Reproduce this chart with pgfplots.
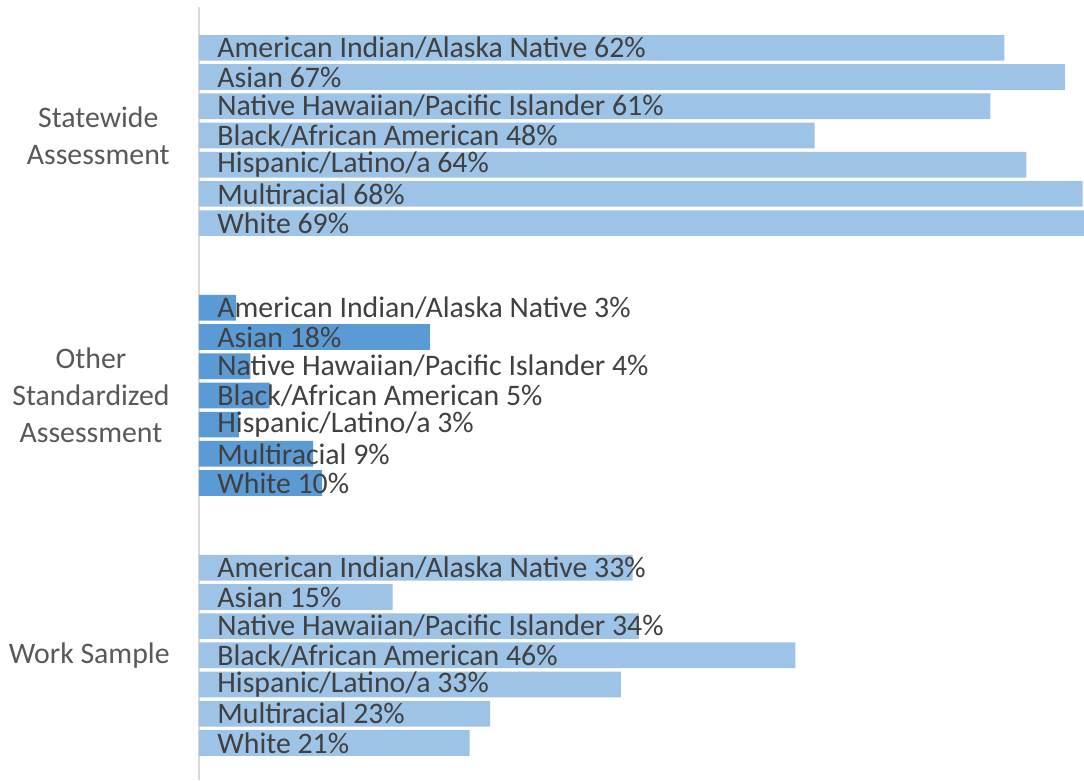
\documentclass[border=0pt]{standalone}
\usepackage{pgfplots}
\pgfplotsset{compat=1.18}
\usepackage{fontspec}
\setmainfont{Carlito}
\definecolor{lightbar}{HTML}{9DC3E6}
\definecolor{darkbar}{HTML}{5B9BD5}
\definecolor{txt}{HTML}{404040}
\definecolor{grptxt}{HTML}{595959}
\definecolor{axisline}{HTML}{D9D9D9}
\begin{document}
\begin{tikzpicture}
\begin{axis}[
  scale only axis,
  width=442.5pt, height=386.5pt,
  xmin=0, xmax=69,
  ymin=-1.40, ymax=25.07,
  y dir=reverse,
  axis x line=none,
  axis y line*=left,
  y axis line style={draw=axisline, line width=1pt, -},
  major tick length=0pt,
  ytick={3,11.9,20.8},
  yticklabels={{Statewide\\Assessment},{Other\\Standardized\\Assessment},{Work Sample}},
  yticklabel style={align=center, inner sep=0pt, xshift=-14.5pt, text=grptxt,
    font=\fontsize{14.9pt}{18.5pt}\selectfont},
  every node near coord/.append style={anchor=west, inner sep=0pt, xshift=9pt,
    text=txt, font=\fontsize{14.9pt}{17pt}\selectfont},
  clip=true,
]
% Statewide Assessment
\addplot[xbar, bar width=0.88, fill=lightbar, draw=none] coordinates {
  (62.8,0) (67.5,1) (61.7,2) (48.0,3) (64.5,4) (68.9,5) (69.2,6)};
% Other Standardized Assessment
\addplot[xbar, bar width=0.88, fill=darkbar, draw=none] coordinates {
  (2.9,8.9) (18.0,9.9) (4.0,10.9) (5.5,11.9) (3.1,12.9) (8.9,13.9) (9.6,14.9)};
% Work Sample
\addplot[xbar, bar width=0.88, fill=lightbar, draw=none] coordinates {
  (33.8,17.8) (15.1,18.8) (34.3,19.8) (46.5,20.8) (32.9,21.8) (22.7,22.8) (21.1,23.8)};
% Labels
\addplot[draw=none, mark=none, nodes near coords, point meta=explicit symbolic, forget plot]
coordinates {
  (0,0) [American Indian/Alaska Native 62\%]
  (0,1) [Asian 67\%]
  (0,2) [Native Hawaiian/Pacific Islander 61\%]
  (0,3) [Black/African American 48\%]
  (0,4) [Hispanic/Latino/a 64\%]
  (0,5) [Multiracial 68\%]
  (0,6) [White 69\%]
  (0,8.9) [American Indian/Alaska Native 3\%]
  (0,9.9) [Asian 18\%]
  (0,10.9) [Native Hawaiian/Pacific Islander 4\%]
  (0,11.9) [Black/African American 5\%]
  (0,12.9) [Hispanic/Latino/a 3\%]
  (0,13.9) [Multiracial 9\%]
  (0,14.9) [White 10\%]
  (0,17.8) [American Indian/Alaska Native 33\%]
  (0,18.8) [Asian 15\%]
  (0,19.8) [Native Hawaiian/Pacific Islander 34\%]
  (0,20.8) [Black/African American 46\%]
  (0,21.8) [Hispanic/Latino/a 33\%]
  (0,22.8) [Multiracial 23\%]
  (0,23.8) [White 21\%]
};
\end{axis}
\pgfresetboundingbox
\path ([xshift=-99.5pt]current axis.south west) rectangle ([yshift=3.5pt]current axis.north east);
\end{tikzpicture}
\end{document}
